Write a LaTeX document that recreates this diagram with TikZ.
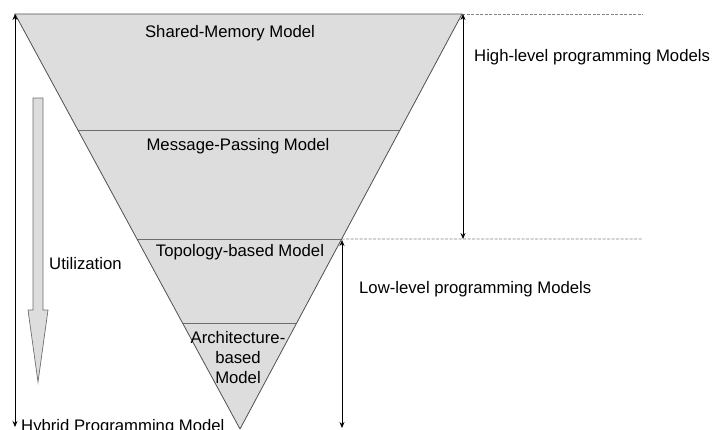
\documentclass[tikz,border=0pt]{standalone}
\usepackage{fontspec}
\setmainfont{Liberation Sans}
\usetikzlibrary{arrows.meta,calc}
\definecolor{fillgray}{RGB}{221,221,221}
\definecolor{edgegray}{RGB}{80,80,80}
\definecolor{divgray}{RGB}{110,110,110}
\definecolor{dashgray}{RGB}{130,130,130}
\tikzset{
  lbl/.style={font=\fontsize{16.7}{20}\selectfont, inner sep=0pt, text=black},
  dim/.style={draw=black, line width=0.7pt, {Stealth[length=6pt,width=5pt]}-{Stealth[length=6pt,width=5pt]}},
  guide/.style={draw=dashgray, line width=0.7pt, dash pattern=on 3pt off 1.5pt},
  divider/.style={draw=divgray, line width=0.8pt},
}
\begin{document}
\begin{tikzpicture}[x=1pt,y=-1pt]
\useasboundingbox (0,0) rectangle (715,429);
\clip (0,0) rectangle (715,429);
% triangle corners
\coordinate (T1) at (15,14);
\coordinate (T2) at (462,14);
\coordinate (A) at (240,429);
\coordinate (L1) at ($(T1)!0.2795!(A)$);
\coordinate (R1) at ($(T2)!0.2795!(A)$);
\coordinate (L2) at ($(T1)!0.5422!(A)$);
\coordinate (R2) at ($(T2)!0.5422!(A)$);
\coordinate (L3) at ($(T1)!0.7446!(A)$);
\coordinate (R3) at ($(T2)!0.7446!(A)$);
\fill[fillgray] (T1) -- (T2) -- (A) -- cycle;
\draw[divider] (L1) -- (R1);
\draw[divider] (L2) -- (R2);
\draw[divider] (L3) -- (R3);
\draw[edgegray, line width=0.8pt] (A) -- (T1) -- (T2) -- (A);
% dashed guides
\coordinate (G1) at (643,14);
\coordinate (G2) at (643,239);
\draw[guide] (T2) -- (G1);
\draw[guide] (R2) -- (G2);
% dimension arrows
\coordinate (HT) at (463,14);
\coordinate (HB) at (463,239);
\coordinate (LT) at (342,240);
\coordinate (LB) at (342,428);
\coordinate (UT) at (15,14);
\coordinate (UB) at (15,427);
\draw[dim] (HT) -- (HB);
\draw[dim] (LT) -- (LB);
\draw[dim] (UT) -- (UB);
% utilization block arrow
\draw[fill=fillgray, draw=divgray, line width=0.7pt]
  (33,98) -- (43,98) -- (43,310) -- (48,310) -- (38,382) -- (28,310) -- (33,310) -- cycle;
% labels
\node[lbl] (shm) at (230,33) {Shared-Memory Model};
\node[lbl] (mp) at (238,146) {Message-Passing Model};
\node[lbl] (topo) at (240,252) {Topology-based Model};
\node[lbl, align=center, font=\fontsize{16.7}{20}\selectfont] (arch) at (238,358) {Architecture-\\based\\Model};
\node[lbl, anchor=west] (util) at (49,264) {Utilization};
\node[lbl, anchor=west] (high) at (474,57) {High-level programming Models};
\node[lbl, anchor=west] (low) at (359,289) {Low-level programming Models};
\node[lbl, anchor=base west] (hyb) at (21,431) {Hybrid Programming Model};
\end{tikzpicture}
\end{document}
